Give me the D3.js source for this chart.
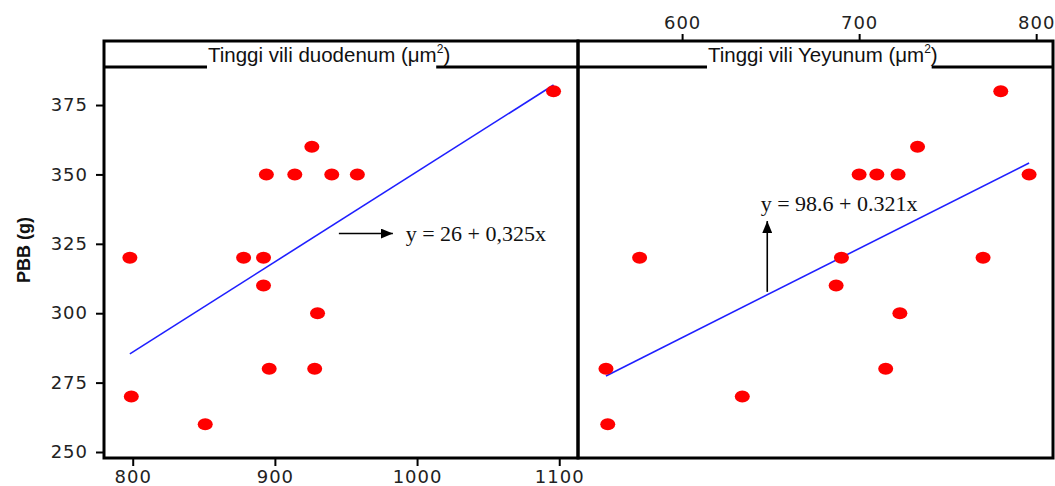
<!DOCTYPE html>
<html>
<head>
<meta charset="utf-8">
<script src="https://cdn.jsdelivr.net/npm/d3@7"></script>
<style>
  body { margin: 0; background: #fff; }
  svg { display: block; }
  .tick text { font-family: "DejaVu Sans", Verdana, sans-serif; font-size: 18px; fill: #222; letter-spacing: 1px; }
  .tick line { stroke: #000; stroke-width: 2px; }
</style>
</head>
<body>
<div id="chart"></div>
<script>
// Data
const duoX = [798, 878, 892, 892, 894, 914, 940, 958, 926, 930, 896, 928, 799, 1096, 851];
const duoY = [320, 320, 320, 310, 350, 350, 350, 350, 360, 300, 280, 280, 270, 380, 260];
const jejX = [780, 733, 700, 710, 722, 796, 576, 690, 770, 687, 723, 557, 715, 634, 558];
const jejY = [380, 360, 350, 350, 350, 350, 320, 320, 320, 310, 300, 280, 280, 270, 260];

// regression: [intercept, slope]
const duoFit = [26, 0.325];
const jejFit = [98.6, 0.321];

const duoTicks = [800, 900, 1000, 1100];
const jejTicks = [600, 700, 800];
const yTicks = [250, 275, 300, 325, 350, 375];

const panelTitles = ["Tinggi vili duodenum (μm", "Tinggi vili Yeyunum (μm"];
const equations = ["y = 26 + 0,325x", "y = 98.6 + 0.321x"];
const yLabel = "PBB (g)";

// Layout
const W = 1055, H = 486;
const frameTop = 41, stripY = 67, frameBottom = 458;
const frameLeft = 104, frameMid = 578, frameRight = 1053;

const svg = d3.select("#chart")
  .append("svg")
  .attr("width", W)
  .attr("height", H);

const y = d3.scaleLinear()
  .domain([247.84, 388.7])
  .range([frameBottom, stripY]);

const xDuo = d3.scaleLinear().domain([779.8, 1113.2]).range([frameLeft, frameMid]);
const xJej = d3.scaleLinear().domain([541.2, 809.5]).range([frameMid, frameRight]);

const panels = [
  { xs: duoX, ys: duoY, fit: duoFit, x: xDuo, x0: frameLeft, x1: frameMid, titleOff: 104, gapTrim: 14,
    ann: { ax1: 945, ax2: 983, ay: 328.7, tx: 992, ty: 326, dir: "h" } },
  { xs: jejX, ys: jejY, fit: jejFit, x: xJej, x0: frameMid, x1: frameRight, titleOff: 130, gapTrim: 6,
    ann: { ax: 648.1, ay1: 307.7, ay2: 333.2, tx: 644.4, ty: 336.8, dir: "v" } }
];

// arrow marker
svg.append("defs").append("marker")
  .attr("id", "arrow")
  .attr("viewBox", "0 0 12 10")
  .attr("refX", 12).attr("refY", 5)
  .attr("markerWidth", 12).attr("markerHeight", 10)
  .attr("markerUnits", "userSpaceOnUse")
  .attr("orient", "auto")
  .append("path")
  .attr("d", "M0,0 L12,5 L0,10 Z")
  .attr("fill", "#000");

panels.forEach((p, i) => {
  const g = svg.append("g");

  // regression line
  const xmin = d3.min(p.xs), xmax = d3.max(p.xs);
  g.append("line")
    .attr("x1", p.x(xmin)).attr("y1", y(p.fit[0] + p.fit[1] * xmin))
    .attr("x2", p.x(xmax)).attr("y2", y(p.fit[0] + p.fit[1] * xmax))
    .attr("stroke", "#1f1fff")
    .attr("stroke-width", 1.6);

  // points
  g.selectAll(".pt")
    .data(d3.range(p.xs.length))
    .enter()
    .append("ellipse")
    .attr("class", "pt")
    .attr("cx", k => p.x(p.xs[k]))
    .attr("cy", k => y(p.ys[k]))
    .attr("rx", 7.5)
    .attr("ry", 6)
    .attr("fill", "#ff0000");

  // annotation arrow + equation
  const a = p.ann;
  if (a.dir === "h") {
    g.append("line")
      .attr("x1", p.x(a.ax1)).attr("y1", y(a.ay))
      .attr("x2", p.x(a.ax2)).attr("y2", y(a.ay))
      .attr("stroke", "#000").attr("stroke-width", 1.6)
      .attr("marker-end", "url(#arrow)");
  } else {
    g.append("line")
      .attr("x1", p.x(a.ax)).attr("y1", y(a.ay1))
      .attr("x2", p.x(a.ax)).attr("y2", y(a.ay2))
      .attr("stroke", "#000").attr("stroke-width", 1.6)
      .attr("marker-end", "url(#arrow)");
  }
  g.append("text")
    .attr("x", p.x(a.tx))
    .attr("y", y(a.ty))
    .attr("font-family", "'Liberation Serif', 'Times New Roman', serif")
    .attr("font-size", 22)
    .attr("fill", "#111")
    .text(equations[i]);

  // frame
  g.append("rect")
    .attr("x", p.x0).attr("y", frameTop)
    .attr("width", p.x1 - p.x0).attr("height", frameBottom - frameTop)
    .attr("fill", "none")
    .attr("stroke", "#000")
    .attr("stroke-width", 3);

  // strip title
  const t = g.append("text")
    .attr("x", p.x0 + p.titleOff)
    .attr("y", 62)
    .attr("font-family", "'Liberation Sans', Arial, sans-serif")
    .attr("font-size", 20.5)
    .attr("fill", "#111");
  t.append("tspan").text(panelTitles[i]);
  t.append("tspan").attr("font-size", 12).attr("dy", -9).text("2");
  t.append("tspan").attr("dy", 9).text(")");
  const bb = t.node().getBBox();

  g.append("line")
    .attr("x1", p.x0).attr("x2", bb.x - 1)
    .attr("y1", stripY).attr("y2", stripY)
    .attr("stroke", "#000").attr("stroke-width", 3);
  g.append("line")
    .attr("x1", bb.x + bb.width - p.gapTrim).attr("x2", p.x1)
    .attr("y1", stripY).attr("y2", stripY)
    .attr("stroke", "#000").attr("stroke-width", 3);
});

// Axes
const fmt = d3.format("d");

const yAxis = svg.append("g")
  .attr("transform", `translate(${frameLeft - 1},0)`)
  .call(d3.axisLeft(y).tickValues(yTicks).tickFormat(fmt).tickSize(7).tickPadding(8).tickSizeOuter(0));
yAxis.select(".domain").remove();

const xAxisB = svg.append("g")
  .attr("transform", `translate(0,${frameBottom + 1})`)
  .call(d3.axisBottom(xDuo).tickValues(duoTicks).tickFormat(fmt).tickSize(7).tickPadding(4).tickSizeOuter(0));
xAxisB.select(".domain").remove();

const xAxisT = svg.append("g")
  .attr("transform", `translate(0,${frameTop - 1})`)
  .call(d3.axisTop(xJej).tickValues(jejTicks).tickFormat(fmt).tickSize(6).tickPadding(5).tickSizeOuter(0));
xAxisT.select(".domain").remove();

// Y label
svg.append("text")
  .attr("transform", `translate(30,250) rotate(-90)`)
  .attr("text-anchor", "middle")
  .attr("font-family", "'Liberation Sans', Arial, sans-serif")
  .attr("font-weight", "bold")
  .attr("font-size", 18)
  .attr("fill", "#111")
  .text(yLabel);
</script>
</body>
</html>
